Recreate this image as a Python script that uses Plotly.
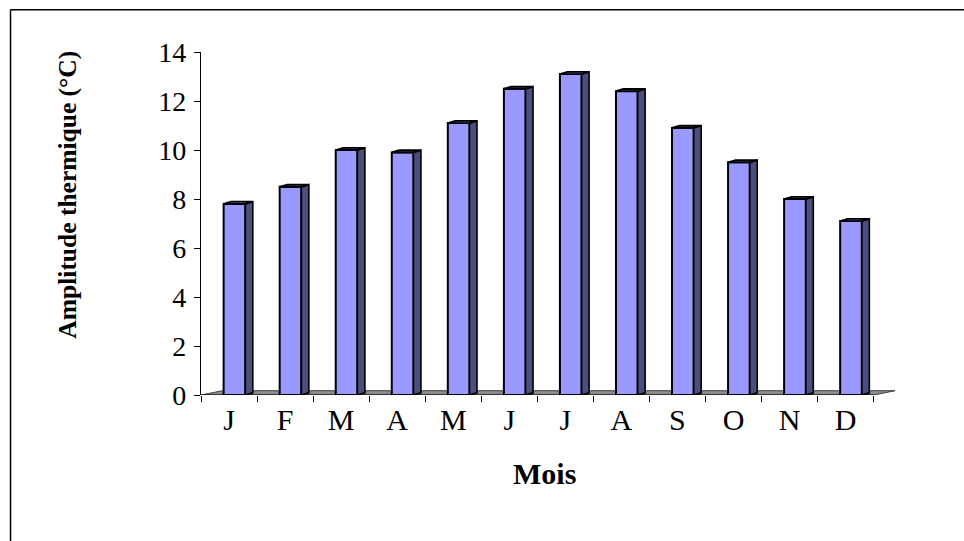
import plotly.graph_objects as go

# Monthly thermal amplitude (°C)
months = ["J", "F", "M", "A", "M", "J", "J", "A", "S", "O", "N", "D"]
amplitude = [7.8, 8.5, 10.0, 9.9, 11.1, 12.5, 13.1, 12.4, 10.9, 9.5, 8.0, 7.1]

y_ticks = [0, 2, 4, 6, 8, 10, 12, 14]

# Page geometry (pixels)
W, H = 964, 541
L, R = 200.7, 896.5      # plot area left/right
T, B = 51.7, 395.0       # plot area top/bottom
x_range = [-0.5, 11.9]
y_range = [0, 14]
px_per_x = (R - L) / (x_range[1] - x_range[0])
px_per_y = (B - T) / (y_range[1] - y_range[0])

# 3-D look: bar box depth and floor depth, converted to data units
bar_dx, bar_dy = 7.5 / px_per_x, 2.2 / px_per_y
floor_dx, floor_dy = 21.5 / px_per_x, 4.3 / px_per_y
front_offset = -5.4 / px_per_x
front_width = 21.7 / px_per_x

FRONT = "#9999FF"
SIDE = "#4D4D80"
TOP = "#6E6EB8"

xs = list(range(len(months)))

fig = go.Figure()

# Front faces of the bars
fig.add_trace(go.Bar(
    x=xs, y=amplitude,
    offset=front_offset, width=front_width,
    marker=dict(color=FRONT, line=dict(color="black", width=2)),
    hoverinfo="skip", showlegend=False,
))

# Right-hand side faces and top faces
side_x, side_y = [], []
top_x, top_y = [], []
for i, v in zip(xs, amplitude):
    xl = i + front_offset
    xr = xl + front_width
    side_x += [xr, xr + bar_dx, xr + bar_dx, xr, xr, None]
    side_y += [0, bar_dy, v + bar_dy, v, 0, None]
    top_x += [xl, xl + bar_dx, xr + bar_dx, xr, xl, None]
    top_y += [v, v + bar_dy, v + bar_dy, v, v, None]

fig.add_trace(go.Scatter(
    x=side_x, y=side_y, mode="lines", fill="toself", fillcolor=SIDE,
    line=dict(color="black", width=1.6), hoverinfo="skip", showlegend=False,
))
fig.add_trace(go.Scatter(
    x=top_x, y=top_y, mode="lines", fill="toself", fillcolor=TOP,
    line=dict(color="black", width=1.8), hoverinfo="skip", showlegend=False,
))

x0, x1 = -0.5, len(months) - 0.5
floor_path = (f"M {x0},0 L {x0 + floor_dx},{floor_dy} "
              f"L {x1 + floor_dx},{floor_dy} L {x1},0 Z")

def px_to_paper_x(px):
    return (px - L) / (R - L)

def px_to_paper_y(py):
    return (B - py) / (B - T)

shapes = [
    # grey floor under the bars
    dict(type="path", path=floor_path, xref="x", yref="y", layer="below",
         fillcolor="#8C8C8C", line=dict(color="#404040", width=1)),
    # front edge of the floor (category axis line)
    dict(type="line", xref="x", yref="y", x0=x0, x1=x1, y0=0, y1=0,
         line=dict(color="black", width=1.2)),
    # chart-area border (top and left edges)
    dict(type="line", xref="paper", yref="paper",
         x0=px_to_paper_x(10), x1=px_to_paper_x(W + 20),
         y0=px_to_paper_y(9.5), y1=px_to_paper_y(9.5),
         line=dict(color="black", width=1.5)),
    dict(type="line", xref="paper", yref="paper",
         x0=px_to_paper_x(10), x1=px_to_paper_x(10),
         y0=px_to_paper_y(9.5), y1=px_to_paper_y(H + 20),
         line=dict(color="black", width=1.5)),
]

annotations = [
    dict(text="<b>Mois</b>", xref="paper", yref="paper",
         x=px_to_paper_x(545), y=px_to_paper_y(474),
         xanchor="center", yanchor="middle", showarrow=False,
         font=dict(family="Liberation Serif", size=30, color="black")),
    dict(text="<b>Amplitude thermique (°C)</b>", xref="paper", yref="paper",
         x=px_to_paper_x(67), y=px_to_paper_y(194), textangle=-90,
         xanchor="center", yanchor="middle", showarrow=False,
         font=dict(family="Liberation Serif", size=25.5, color="black")),
]

fig.update_layout(
    width=W, height=H,
    margin=dict(l=L, r=W - R, t=T, b=H - B, pad=0),
    paper_bgcolor="white", plot_bgcolor="white",
    shapes=shapes, annotations=annotations,
    showlegend=False,
    xaxis=dict(
        range=x_range, showgrid=False, zeroline=False, showline=False,
        tickmode="array", tickvals=xs, ticktext=months, ticks="",
        tickfont=dict(family="Liberation Serif", size=30, color="black"),
        minor=dict(tickmode="array", tickvals=[k - 0.5 for k in range(len(months) + 1)],
                   ticks="outside", ticklen=6, tickwidth=1, tickcolor="black"),
        ticklabelstandoff=4,
        fixedrange=True,
    ),
    yaxis=dict(
        range=y_range, showgrid=False, zeroline=False,
        showline=True, linecolor="black", linewidth=1.2,
        tickmode="array", tickvals=y_ticks, ticks="outside", ticklen=6,
        tickcolor="black", tickwidth=1,
        tickfont=dict(family="Liberation Serif", size=28, color="black"),
        ticklabelstandoff=2,
        fixedrange=True,
    ),
)

fig.write_html("out.html")
